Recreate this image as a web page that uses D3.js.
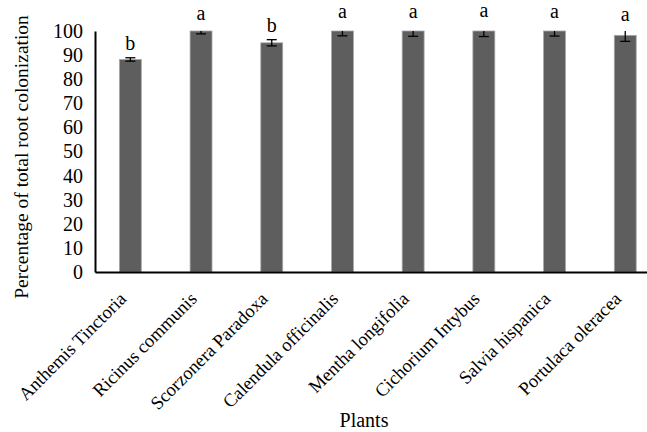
<!DOCTYPE html>
<html>
<head>
<meta charset="utf-8">
<style>
  body { margin: 0; background: #fff; }
  svg text { font-family: "Liberation Serif", "Times New Roman", Times, serif; fill: #000; }
</style>
<script src="https://cdn.jsdelivr.net/npm/d3@7"></script>
</head>
<body>
<script>
// data
var plants = ["Anthemis Tinctoria", "Ricinus communis", "Scorzonera Paradoxa", "Calendula officinalis",
              "Mentha longifolia", "Cichorium Intybus", "Salvia hispanica", "Portulaca oleracea"];
var colonization = [88.2, 100, 95.1, 100, 100, 100, 100, 98.2];
var errors = [0.7, 1.2, 1.3, 2.0, 2.2, 2.3, 2.1, 2.5];
var letters = ["b", "a", "b", "a", "a", "a", "a", "a"];
var yTicks = [0, 10, 20, 30, 40, 50, 60, 70, 80, 90, 100];

var w = 647, h = 432;
var plotLeft = 95, plotTop = 31, plotBottom = 272;
var serif = "'Liberation Serif', 'Times New Roman', serif";

var svg = d3.select("body").append("svg")
    .attr("width", w)
    .attr("height", h);

var x = d3.scaleBand()
    .domain(plants)
    .range([plotLeft, plotLeft + 8 * 70.7])
    .paddingInner(0.69)
    .paddingOuter(0.345);

var y = d3.scaleLinear()
    .domain([0, 100])
    .range([plotBottom, plotTop]);

// clip for error bars (Excel clips at the plot area)
svg.append("clipPath").attr("id", "plotclip")
  .append("rect")
    .attr("x", plotLeft).attr("y", plotTop)
    .attr("width", w - plotLeft).attr("height", plotBottom - plotTop);

// bars
svg.append("g")
  .selectAll("rect")
  .data(plants)
  .enter()
  .append("rect")
    .attr("x", function (d) { return x(d); })
    .attr("y", function (d, i) { return y(colonization[i]); })
    .attr("width", x.bandwidth())
    .attr("height", function (d, i) { return plotBottom - y(colonization[i]); })
    .attr("fill", "#5e5e5e")
    .attr("stroke", "#a8a8a8")
    .attr("stroke-width", 0.8);

// error bars
var eb = svg.append("g").attr("clip-path", "url(#plotclip)")
  .selectAll("g")
  .data(plants)
  .enter()
  .append("g")
    .attr("stroke", "#000")
    .attr("stroke-width", 1.3);

eb.append("line")
    .attr("x1", function (d) { return x(d) + x.bandwidth() / 2; })
    .attr("x2", function (d) { return x(d) + x.bandwidth() / 2; })
    .attr("y1", function (d, i) { return y(colonization[i] - errors[i]); })
    .attr("y2", function (d, i) { return y(colonization[i] + errors[i]); });
eb.append("line")
    .attr("x1", function (d) { return x(d) + x.bandwidth() / 2 - 5; })
    .attr("x2", function (d) { return x(d) + x.bandwidth() / 2 + 5; })
    .attr("y1", function (d, i) { return y(colonization[i] - errors[i]); })
    .attr("y2", function (d, i) { return y(colonization[i] - errors[i]); });
eb.append("line")
    .attr("x1", function (d) { return x(d) + x.bandwidth() / 2 - 5; })
    .attr("x2", function (d) { return x(d) + x.bandwidth() / 2 + 5; })
    .attr("y1", function (d, i) { return y(colonization[i] + errors[i]); })
    .attr("y2", function (d, i) { return y(colonization[i] + errors[i]); });

// significance letters
svg.append("g")
  .selectAll("text")
  .data(plants)
  .enter()
  .append("text")
    .attr("x", function (d) { return x(d) + x.bandwidth() / 2; })
    .attr("y", function (d, i) { return y(colonization[i] + errors[i]) - 8; })
    .attr("text-anchor", "middle")
    .style("font-size", "20px")
    .text(function (d, i) { return letters[i]; });

// Y axis
var yAxis = svg.append("g")
    .attr("font-family", serif)
    .attr("transform", "translate(" + plotLeft + ",0)")
    .call(d3.axisLeft(y).tickValues(yTicks).tickSize(0).tickPadding(12));
yAxis.select(".domain").attr("stroke", "#000").attr("stroke-width", 2);
yAxis.selectAll("text")
    .style("font-size", "20px");

// X axis
var xAxis = svg.append("g")
    .attr("font-family", serif)
    .attr("transform", "translate(0," + plotBottom + ")")
    .call(d3.axisBottom(x).tickSize(0).tickSizeOuter(0));
xAxis.select(".domain").attr("stroke", "#000").attr("stroke-width", 2);
xAxis.selectAll("text")
    .attr("text-anchor", "end")
    .attr("dy", null)
    .attr("y", null)
    .attr("transform", "translate(-3,28) rotate(-45)")
    .style("font-size", "18.5px");

// axis titles
svg.append("text")
    .attr("transform", "translate(28,157) rotate(-90)")
    .attr("text-anchor", "middle")
    .style("font-size", "19.5px")
    .text("Percentage of total root colonization");

svg.append("text")
    .attr("x", 364)
    .attr("y", 427)
    .attr("text-anchor", "middle")
    .style("font-size", "20px")
    .text("Plants");
</script>
</body>
</html>
